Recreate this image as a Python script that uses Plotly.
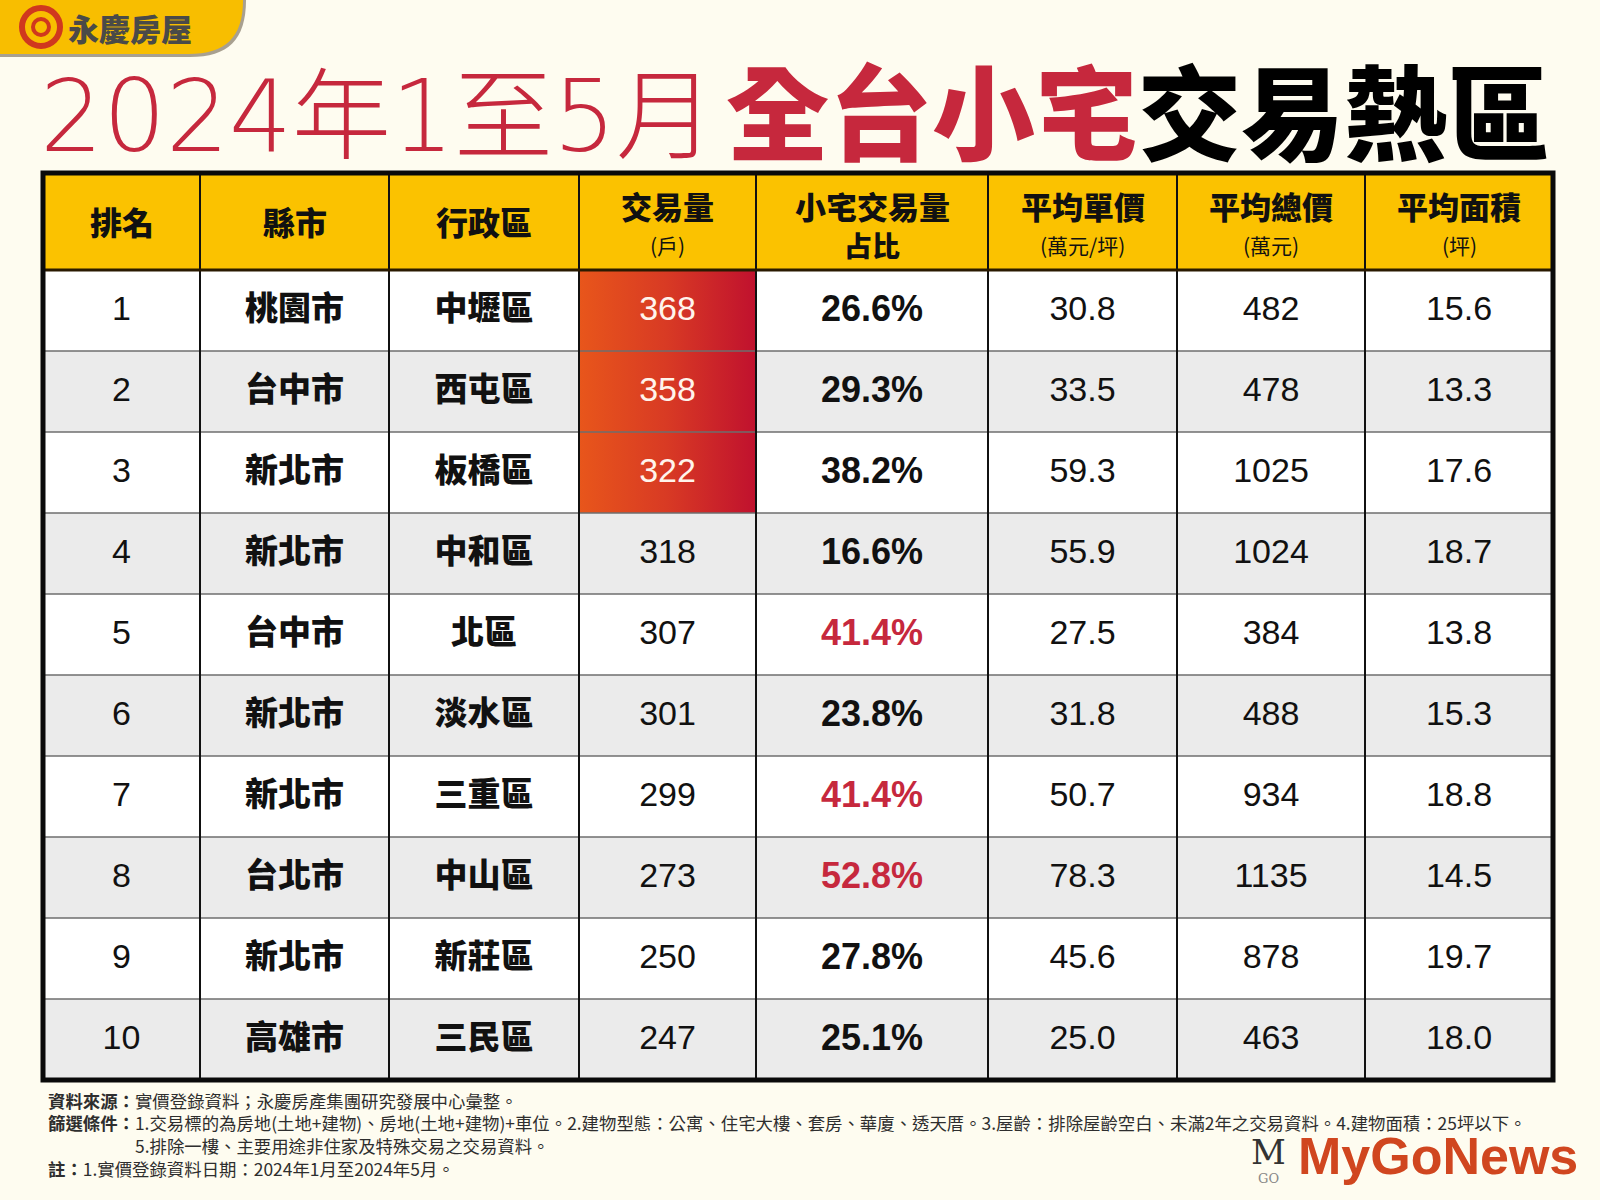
import plotly.graph_objects as go

# ---------------- data ----------------
ranks = [1, 2, 3, 4, 5, 6, 7, 8, 9, 10]
cities = ["桃園市", "台中市", "新北市", "新北市", "台中市", "新北市", "新北市", "台北市", "新北市", "高雄市"]
districts = ["中壢區", "西屯區", "板橋區", "中和區", "北區", "淡水區", "三重區", "中山區", "新莊區", "三民區"]
volumes = [368, 358, 322, 318, 307, 301, 299, 273, 250, 247]
share_pct = [26.6, 29.3, 38.2, 16.6, 41.4, 23.8, 41.4, 52.8, 27.8, 25.1]
unit_price = [30.8, 33.5, 59.3, 55.9, 27.5, 31.8, 50.7, 78.3, 45.6, 25.0]
total_price = [482, 478, 1025, 1024, 384, 488, 934, 1135, 878, 463]
avg_area = [15.6, 13.3, 17.6, 18.7, 13.8, 15.3, 18.8, 14.5, 19.7, 18.0]

header_main = ["排名", "縣市", "行政區", "交易量", "小宅交易量", "平均單價", "平均總價", "平均面積"]
header_sub = ["", "", "", "(戶)", "占比", "(萬元/坪)", "(萬元)", "(坪)"]
header_sub_bold = [False, False, False, False, True, False, False, False]

title_part1 = "2024年1至5月"
title_part2 = "全台小宅"
title_part3 = "交易熱區"
brand = "永慶房屋"
notes = [
    ("資料來源：", "實價登錄資料；永慶房產集團研究發展中心彙整。"),
    ("篩選條件：", "1.交易標的為房地(土地+建物)、房地(土地+建物)+車位。2.建物型態：公寓、住宅大樓、套房、華廈、透天厝。3.屋齡：排除屋齡空白、未滿2年之交易資料。4.建物面積：25坪以下。"),
    ("", "5.排除一樓、主要用途非住家及特殊交易之交易資料。"),
    ("註：", "1.實價登錄資料日期：2024年1月至2024年5月。"),
]
highlight_top_n = 3
red_share_threshold = 40.0

# ---------------- style / layout ----------------
W, H = 1600, 1200
BG = "#FEFCF0"
YELLOW = "#FBC200"
GRAY_ROW = "#EBEBEB"
RED = "#C6283D"
TEXT = "#111111"
CJK = "Noto Sans CJK TC"
LAT = "Liberation Sans"

col_edges = [43, 200, 389, 579, 756, 988, 1177, 1365, 1553]
table_top = 173
header_bottom = 270
row_h = 81
n_rows = len(ranks)
table_bottom = header_bottom + row_h * n_rows
col_centers = [(col_edges[i] + col_edges[i + 1]) / 2 for i in range(len(col_edges) - 1)]
row_centers = [header_bottom + row_h * (i + 0.5) + 1 for i in range(n_rows)]

fig = go.Figure()
shapes = []
annotations = []

# header background
shapes.append(dict(type="rect", x0=col_edges[0], x1=col_edges[-1], y0=table_top, y1=header_bottom,
                   fillcolor=YELLOW, line=dict(width=0), layer="below"))
# row backgrounds
for i in range(n_rows):
    y0 = header_bottom + row_h * i
    shapes.append(dict(type="rect", x0=col_edges[0], x1=col_edges[-1], y0=y0, y1=y0 + row_h,
                       fillcolor="#FFFFFF" if i % 2 == 0 else GRAY_ROW, line=dict(width=0), layer="below"))

# gradient cells for top volumes
for i in range(n_rows):
    if ranks[i] <= highlight_top_n:
        y0 = header_bottom + row_h * i
        x0, x1 = col_edges[3], col_edges[4]
        fig.add_trace(go.Scatter(
            x=[x0, x1, x1, x0, x0], y=[y0, y0, y0 + row_h, y0 + row_h, y0],
            mode="lines", fill="toself", line=dict(width=0),
            fillgradient=dict(type="horizontal",
                              colorscale=[[0, "#E8561B"], [0.5, "#D83A24"], [1, "#C0112E"]]),
            hoverinfo="skip", showlegend=False))

# horizontal row lines
for i in range(1, n_rows):
    y = header_bottom + row_h * i
    shapes.append(dict(type="line", x0=col_edges[0], x1=col_edges[-1], y0=y, y1=y,
                       line=dict(color="#6E6E6E", width=1.5), layer="above"))
# vertical lines
for x in col_edges[1:-1]:
    shapes.append(dict(type="line", x0=x, x1=x, y0=table_top, y1=table_bottom,
                       line=dict(color="#111111", width=2), layer="above"))
# header bottom
shapes.append(dict(type="line", x0=col_edges[0], x1=col_edges[-1], y0=header_bottom, y1=header_bottom,
                   line=dict(color="#2A1A00", width=3), layer="above"))
# outer border
shapes.append(dict(type="rect", x0=col_edges[0], x1=col_edges[-1], y0=table_top, y1=table_bottom,
                   line=dict(color="#0A0A0A", width=5), fillcolor="rgba(0,0,0,0)", layer="above"))

# header text
for j, (m, s) in enumerate(zip(header_main, header_sub)):
    cx = col_centers[j]
    if s:
        annotations.append(dict(x=cx, y=205, text=m, showarrow=False, xanchor="center", yanchor="middle",
                                font=dict(family=CJK, size=31, color=TEXT, weight=900)))
        annotations.append(dict(x=cx, y=245, text=s, showarrow=False, xanchor="center", yanchor="middle",
                                font=dict(family=CJK, size=28 if header_sub_bold[j] else 21,
                                          color=TEXT, weight=900 if header_sub_bold[j] else 400)))
    else:
        annotations.append(dict(x=cx, y=221, text=m, showarrow=False, xanchor="center", yanchor="middle",
                                font=dict(family=CJK, size=32, color=TEXT, weight=900)))

# cell text traces
def text_trace(col, texts, family, size, colors, weight=400):
    fig.add_trace(go.Scatter(
        x=[col_centers[col]] * n_rows, y=row_centers, mode="text", text=texts,
        textposition="middle center",
        textfont=dict(family=family, size=size, color=colors, weight=weight),
        hoverinfo="skip", showlegend=False))

text_trace(0, [str(r) for r in ranks], LAT, 34, TEXT)
text_trace(1, cities, CJK, 33, TEXT, 900)
text_trace(2, districts, CJK, 33, TEXT, 900)
text_trace(3, [str(v) for v in volumes], LAT, 34,
           ["#FFF4EC" if r <= highlight_top_n else TEXT for r in ranks])
text_trace(4, [f"{p:.1f}%" for p in share_pct], LAT, 36,
           [RED if p > red_share_threshold else TEXT for p in share_pct], 700)
text_trace(5, [f"{v:.1f}" for v in unit_price], LAT, 34, TEXT)
text_trace(6, [str(v) for v in total_price], LAT, 34, TEXT)
text_trace(7, [f"{v:.1f}" for v in avg_area], LAT, 34, TEXT)

# title
annotations.append(dict(x=38, y=116, text=title_part1, showarrow=False, xanchor="left", yanchor="middle",
                        font=dict(family="DejaVu Sans, Noto Sans CJK TC", size=99, color=RED, weight=200)))
annotations.append(dict(x=1552, y=108,
                        text=f"<span style='color:{RED}'>{title_part2}</span>{title_part3}",
                        showarrow=False, xanchor="right", yanchor="middle",
                        font=dict(family=CJK, size=103, color="#000000", weight=900)))

# brand tab (top-left)
shapes.append(dict(type="path", path="M 0 0 L 246 0 C 246 40 228 57 190 57 L 0 57 Z",
                   fillcolor="#A8A090", line=dict(width=0), layer="below"))
shapes.append(dict(type="path", path="M 0 0 L 243 0 C 243 37 226 54 188 54 L 0 54 Z",
                   fillcolor="#F8BE00", line=dict(width=0), layer="below"))
shapes.append(dict(type="circle", x0=22, x1=60, y0=8, y1=46, line=dict(color="#D0381E", width=6),
                   fillcolor="rgba(0,0,0,0)", layer="above"))
shapes.append(dict(type="circle", x0=33, x1=49, y0=19, y1=35, line=dict(color="#D0381E", width=4),
                   fillcolor="rgba(0,0,0,0)", layer="above"))
annotations.append(dict(x=66, y=27, text=brand, showarrow=False, xanchor="left", yanchor="middle",
                        font=dict(family=CJK, size=31, color="#4A4A48", weight=900)))

# footnotes
note_x = 46
note_size = 17.4
note_ys = [1100, 1122, 1145, 1168]
indent = note_x + 5 * note_size
for (lab, body), y in zip(notes, note_ys):
    if lab:
        txt = f"<b>{lab}</b>{body}"
        x = note_x
    else:
        txt = body
        x = indent
    annotations.append(dict(x=x, y=y, text=txt, showarrow=False, xanchor="left", yanchor="middle",
                            font=dict(family=CJK, size=note_size, color="#2E2E2E")))

# MyGoNews logo
annotations.append(dict(x=1268, y=1152, text="M", showarrow=False, xanchor="center", yanchor="middle",
                        font=dict(family="DejaVu Serif", size=34, color="#333333")))
annotations.append(dict(x=1268, y=1178, text="GO", showarrow=False, xanchor="center", yanchor="middle",
                        font=dict(family="DejaVu Serif", size=13, color="#888888")))
annotations.append(dict(x=1580, y=1156, text="<b>MyGoNews</b>", showarrow=False, xanchor="right", yanchor="middle",
                        font=dict(family=LAT, size=52, color="#D0461F")))

fig.update_layout(
    width=W, height=H, margin=dict(l=0, r=0, t=0, b=0),
    paper_bgcolor=BG, plot_bgcolor=BG,
    xaxis=dict(range=[0, W], visible=False, fixedrange=True),
    yaxis=dict(range=[H, 0], visible=False, fixedrange=True),
    shapes=shapes, annotations=annotations, showlegend=False, hovermode=False,
)

fig.write_html("out.html", config={"displayModeBar": False},
               post_script="document.body.style.margin='0';document.body.style.background='" + BG + "';")
